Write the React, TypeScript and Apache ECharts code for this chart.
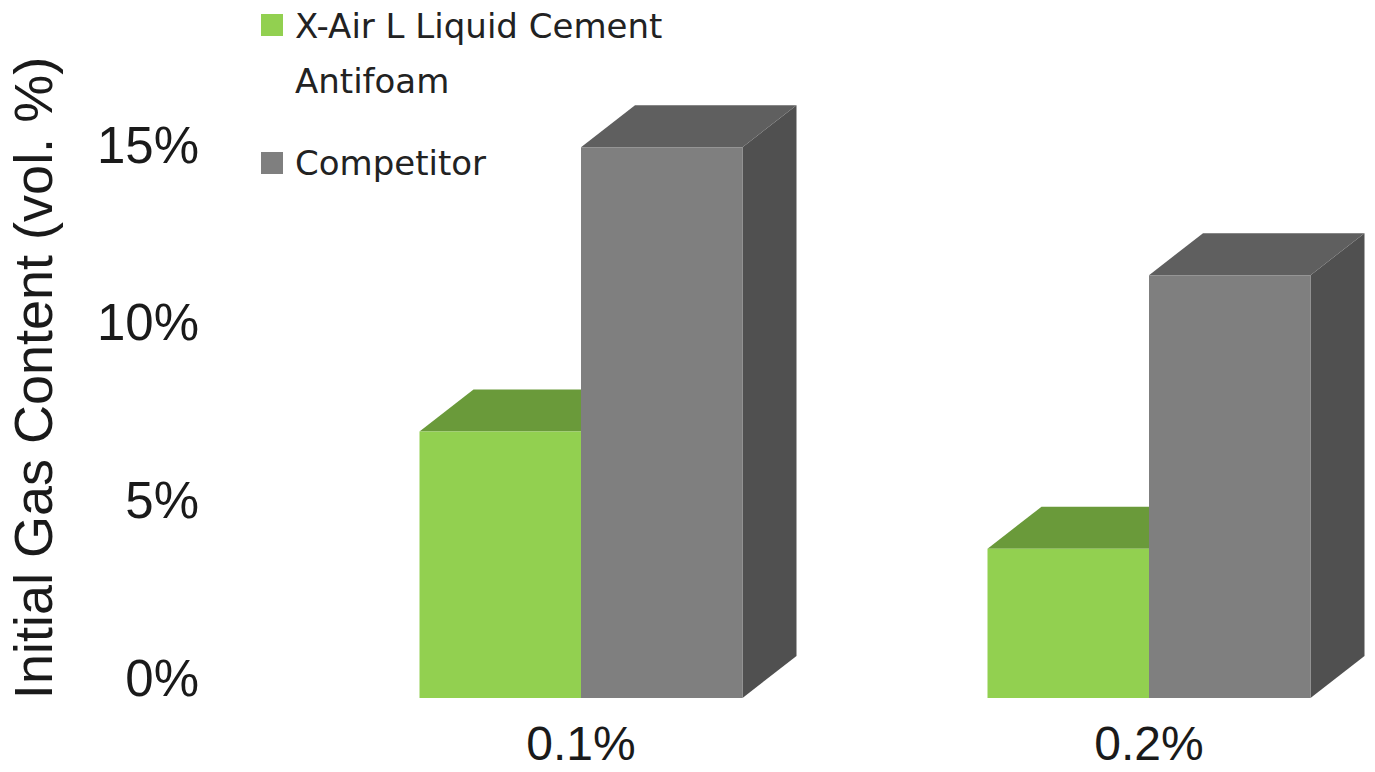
import React, { useEffect, useRef } from "react";
import * as echarts from "echarts";

const categories = ["0.1%", "0.2%"];
const seriesNames = ["X-Air L Liquid Cement\nAntifoam", "Competitor"];
const xAirValues = [7.5, 4.2];
const competitorValues = [15.5, 11.9];
const yAxisTitle = "Initial Gas Content (vol. %)";

const FRONT = ["#92D050", "#7F7F7F"];
const TOP = ["#6A9A3A", "#5F5F5F"];
const SIDE = ["#5E8A33", "#505050"];

const DX = 54;
const DY = 42;
const FRONT_DY = 20;
const BAR_FRAC = 161.5 / 568;

function makeRender(seriesIdx: number) {
  return (params: any, api: any) => {
    const xi = api.value(0);
    const v = api.value(1);
    const base = api.coord([xi, 0]);
    const top = api.coord([xi, v]);
    const band = api.size([1, 0])[0];
    const w = band * BAR_FRAC;
    const cx = base[0];
    const x0 = seriesIdx === 0 ? cx - w : cx;
    const x1 = x0 + w;
    const yt = top[1] + FRONT_DY;
    const yb = base[1] + FRONT_DY;
    return {
      type: "group",
      children: [
        {
          type: "polygon",
          shape: { points: [[x1, yt], [x1 + DX, yt - DY], [x1 + DX, yb - DY], [x1, yb]] },
          style: { fill: SIDE[seriesIdx] },
        },
        {
          type: "polygon",
          shape: { points: [[x0, yt], [x1, yt], [x1 + DX, yt - DY], [x0 + DX, yt - DY]] },
          style: { fill: TOP[seriesIdx] },
        },
        {
          type: "rect",
          shape: { x: x0, y: yt, width: w, height: yb - yt },
          style: { fill: FRONT[seriesIdx] },
        },
      ],
    };
  };
}

export default function App() {
  const ref = useRef<HTMLDivElement>(null);
  useEffect(() => {
    if (!ref.current) return;
    const chart = echarts.init(ref.current, undefined, { renderer: "svg" });
    const legendFont = "'DejaVu Sans', 'Open Sans', sans-serif";
    chart.setOption({
      animation: false,
      backgroundColor: "#ffffff",
      grid: {
        left: 297,
        top: 109.5,
        width: 1136,
        height: 568.5,
        containLabel: false,
        outerBoundsMode: "none",
      },
      xAxis: {
        type: "category",
        data: categories,
        axisLine: { show: false },
        axisTick: { show: false },
        axisLabel: {
          margin: 43,
          fontSize: 48,
          lineHeight: 44,
          fontFamily: "'Liberation Sans', Arial, sans-serif",
          color: "#1a1a1a",
        },
      },
      yAxis: {
        type: "value",
        min: 0,
        max: 16,
        interval: 5,
        splitLine: { show: false },
        axisLine: { show: false },
        axisTick: { show: false },
        axisLabel: {
          showMaxLabel: false,
          margin: 98,
          fontSize: 51,
          fontFamily: "'Liberation Sans', Arial, sans-serif",
          color: "#1a1a1a",
          formatter: (v: number) => `${v}%`,
        },
      },
      graphic: [
        {
          type: "text",
          x: 33,
          y: 378,
          rotation: Math.PI / 2,
          style: {
            text: yAxisTitle,
            fontSize: 54,
            fontFamily: "'Liberation Sans', Arial, sans-serif",
            fill: "#1a1a1a",
            align: "center",
            verticalAlign: "middle",
          },
        },
        {
          type: "rect",
          shape: { x: 261, y: 14, width: 22, height: 22 },
          style: { fill: FRONT[0] },
        },
        {
          type: "text",
          x: 295,
          y: -2,
          style: {
            text: seriesNames[0],
            fontSize: 34,
            lineHeight: 55,
            fontFamily: legendFont,
            fill: "#222222",
            align: "left",
            verticalAlign: "top",
          },
        },
        {
          type: "rect",
          shape: { x: 261, y: 152, width: 22, height: 22 },
          style: { fill: FRONT[1] },
        },
        {
          type: "text",
          x: 295,
          y: 163,
          style: {
            text: seriesNames[1],
            fontSize: 34,
            fontFamily: legendFont,
            fill: "#222222",
            align: "left",
            verticalAlign: "middle",
          },
        },
      ],
      series: [
        {
          type: "custom",
          name: seriesNames[0],
          renderItem: makeRender(0),
          data: xAirValues.map((v, i) => [i, v]),
          encode: { x: 0, y: 1 },
          clip: false,
          z: 2,
        },
        {
          type: "custom",
          name: seriesNames[1],
          renderItem: makeRender(1),
          data: competitorValues.map((v, i) => [i, v]),
          encode: { x: 0, y: 1 },
          clip: false,
          z: 3,
        },
      ],
    });
    return () => chart.dispose();
  }, []);
  return (
    <div
      ref={ref}
      style={{ position: "fixed", left: 0, top: 0, width: 1375, height: 772 }}
    />
  );
}
